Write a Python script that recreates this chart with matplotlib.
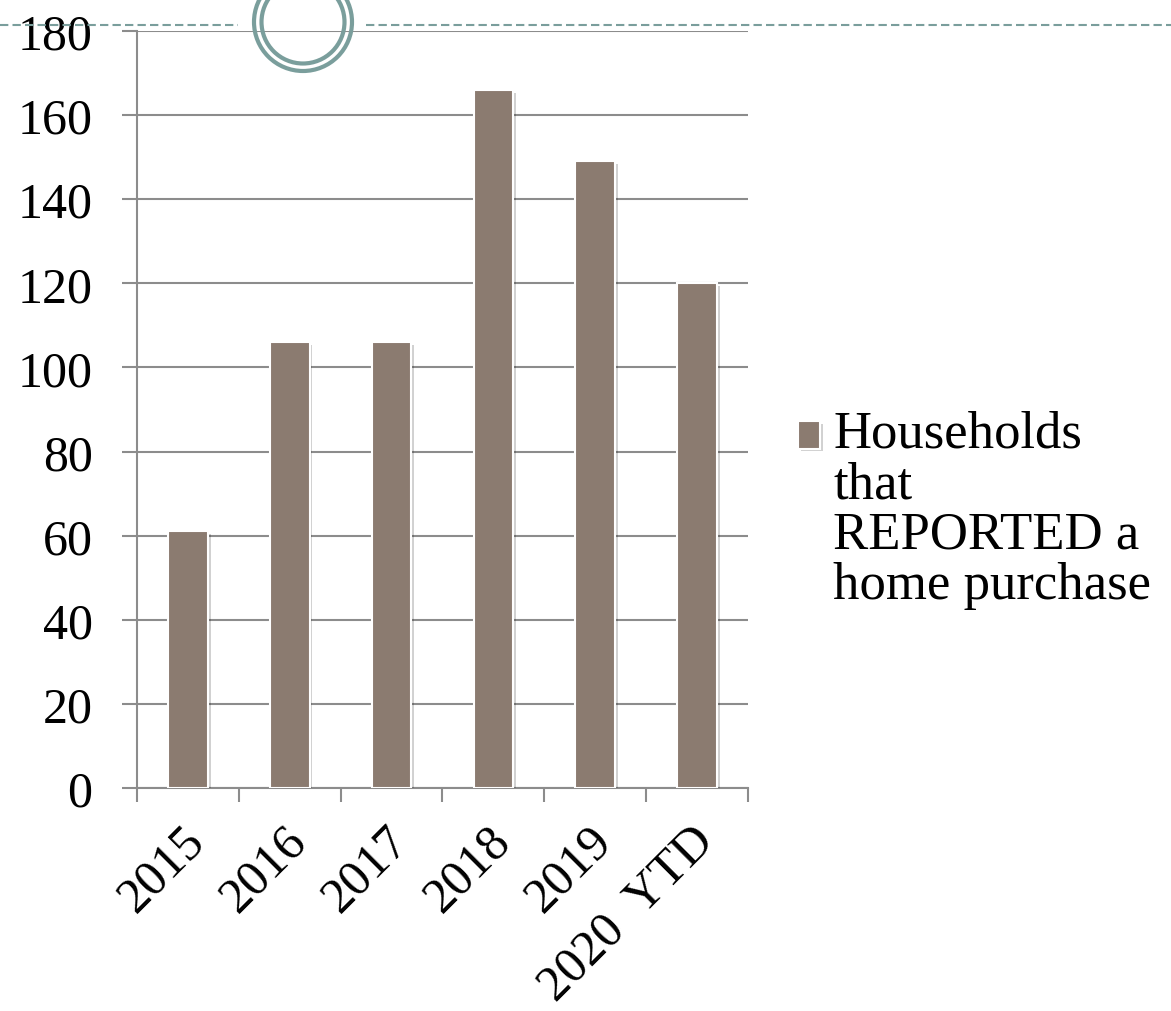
import matplotlib
matplotlib.use('Agg')
import matplotlib.pyplot as plt
import matplotlib.patheffects as pe
from matplotlib.patches import Circle
from matplotlib.lines import Line2D
from matplotlib.transforms import ScaledTranslation

plt.rcParams['font.family'] = ['Liberation Serif', 'DejaVu Serif']

# data
years = ['2015', '2016', '2017', '2018', '2019', '2020  YTD']
households = [61, 106, 106, 166, 149, 120]
series_name = 'Households\nthat\nREPORTED a\nhome purchase'
y_ticks = [0, 20, 40, 60, 80, 100, 120, 140, 160, 180]

bar_color = '#8b7b70'
grid_color = '#8c8c8c'
deco_color = '#7a9e9c'

fig = plt.figure(figsize=(11.71, 10.12), dpi=100)
ax = fig.add_axes([137 / 1171, 1 - 789 / 1012, (748 - 137) / 1171, (789 - 32) / 1012])

x = range(len(years))
bars = ax.bar(x, households, width=0.39, color=bar_color, edgecolor='white',
              linewidth=1.5, label=series_name, zorder=3)
for b in bars:
    b.set_path_effects([pe.SimplePatchShadow(offset=(2, -2), shadow_rgbFace='k', alpha=0.18),
                        pe.Normal()])

ax.set_xlim(-0.5, len(years) - 0.5)
ax.set_ylim(0, 180)
ax.set_yticks(y_ticks)
ax.yaxis.grid(True, color=grid_color, linewidth=1.5)
ax.set_axisbelow(True)

for s in ['top', 'right']:
    ax.spines[s].set_visible(False)
for s in ['left', 'bottom']:
    ax.spines[s].set_color(grid_color)
    ax.spines[s].set_linewidth(1.5)

ax.tick_params(axis='y', labelsize=36, length=11, width=1.5, color=grid_color, pad=21)
ax.set_xticks(list(x))
ax.set_xticks([i - 0.5 for i in range(len(years) + 1)], minor=True)
ax.set_xticklabels(years, fontsize=36, rotation=45, ha='right', va='top',
                   rotation_mode='anchor')
ax.tick_params(axis='x', which='major', length=0, pad=21)
ax.tick_params(axis='x', which='minor', length=10, width=1.5, color=grid_color)
shift = ScaledTranslation(-7 / 100, 0, fig.dpi_scale_trans)
for lab in ax.get_xticklabels():
    lab.set_transform(lab.get_transform() + shift)

# slide decoration: dashed rule and double ring
fig.add_artist(Line2D([0, 238 / 1171], [1 - 26 / 1012] * 2, color=deco_color, lw=1.5,
                      dashes=(4, 2), transform=fig.transFigure))
fig.add_artist(Line2D([366 / 1171, 1], [1 - 26 / 1012] * 2, color=deco_color, lw=1.5,
                      dashes=(4, 2), transform=fig.transFigure))
for r in [0.49, 0.415]:
    fig.add_artist(Circle((3.03, 10.12 - 0.23), r, fill=False, edgecolor=deco_color,
                          lw=3, transform=fig.dpi_scale_trans))

leg = ax.legend(loc='upper left', bbox_to_anchor=(798 / 1171, 1 - 411 / 1012),
                bbox_transform=fig.transFigure, frameon=False, fontsize=38,
                handlelength=0.42, handleheight=0.42, handletextpad=0.25,
                borderpad=0, borderaxespad=0)
for t in leg.get_texts():
    t.set_linespacing(1.06)

# put the legend square next to the first line of the label
fig.canvas.draw()
tb = leg.get_texts()[0].get_window_extent()
h = leg.legend_handles[0]
hb = h.get_window_extent()
target = tb.y1 - tb.height / 8
d_px = target - (hb.y0 + hb.y1) / 2
h.set_y(h.get_y() + d_px * 72 / fig.dpi)

fig.savefig('out.png', dpi=100)
